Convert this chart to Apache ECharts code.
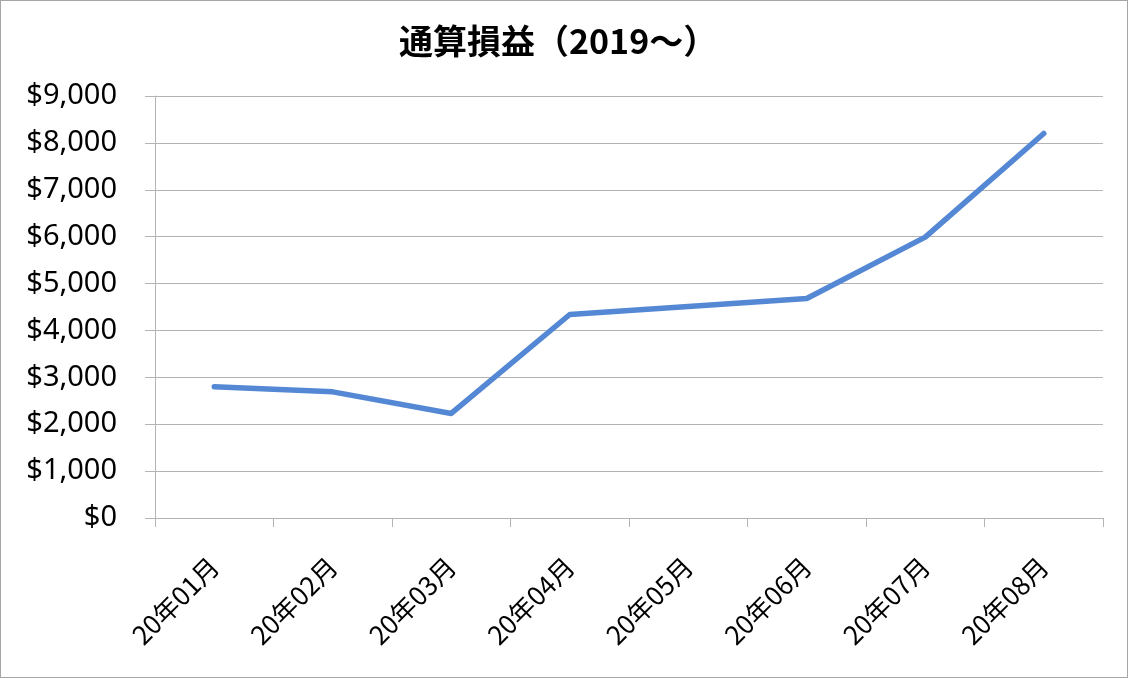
<!DOCTYPE html>
<html>
<head>
<meta charset="utf-8">
<style>
html,body{margin:0;padding:0;background:#fff;}
#c{width:1126px;height:676px;border:1px solid #a6a6a6;}
</style>
<script src="https://cdn.jsdelivr.net/npm/echarts@6/dist/echarts.min.js"></script>
</head>
<body>
<div id="c"></div>
<script>
const categories = ['20年01月','20年02月','20年03月','20年04月','20年05月','20年06月','20年07月','20年08月'];
const values = [2800, 2690, 2230, 4340, 4510, 4680, 5990, 8200];
const yTicks = {min: 0, max: 9000, interval: 1000};
const titleText = '通算損益（2019〜）';

const chart = echarts.init(document.getElementById('c'));
chart.setOption({
  animation: false,
  title: {
    text: titleText,
    left: 393,
    top: 18,
    textStyle: {fontFamily: 'Noto Sans CJK JP', fontWeight: 'bold', fontSize: 34, color: '#000'}
  },
  grid: {left: 154, right: 24, top: 95, bottom: 159, containLabel: false},
  xAxis: {
    type: 'category',
    data: categories,
    boundaryGap: true,
    axisLine: {lineStyle: {color: '#b3b3b3', width: 1}},
    axisTick: {show: true, length: 9, lineStyle: {color: '#b3b3b3'}},
    axisLabel: {rotate: 45, margin: 44, fontSize: 26, color: '#000', fontFamily: 'Noto Sans CJK JP'}
  },
  yAxis: {
    type: 'value',
    min: yTicks.min, max: yTicks.max, interval: yTicks.interval,
    axisLine: {show: true, lineStyle: {color: '#b3b3b3', width: 1}},
    axisTick: {show: true, length: 10, lineStyle: {color: '#b3b3b3'}},
    splitLine: {lineStyle: {color: '#b3b3b3', width: 1}},
    axisLabel: {
      margin: 38, fontSize: 29, color: '#000', fontFamily: 'Noto Sans',
      formatter: v => '$' + v.toLocaleString('en-US')
    }
  },
  series: [{
    type: 'line',
    data: values,
    symbol: 'none',
    lineStyle: {color: '#5588d4', width: 5.5, cap: 'round', join: 'round'}
  }]
});
</script>
</body>
</html>
